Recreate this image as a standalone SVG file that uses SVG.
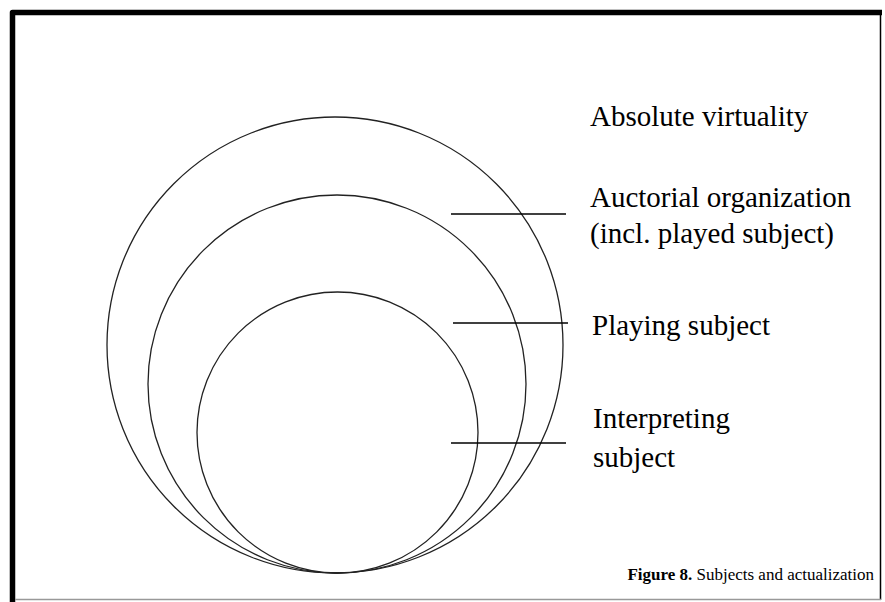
<svg xmlns="http://www.w3.org/2000/svg" width="885" height="602" viewBox="0 0 885 602">
<style>
.lbl{font-family:"Liberation Serif","Times New Roman",serif;font-size:29px;fill:#000}
.cap{font-family:"Liberation Serif","Times New Roman",serif;font-size:17px;fill:#000}
.ring{fill:none;stroke:#222;stroke-width:1.3}
.tick{stroke:#000;stroke-width:1.6}
</style>
<rect width="885" height="602" fill="#fff"/>
<g id="frame">
<path d="M12.5,602 V12.5 H882" fill="none" stroke="#000" stroke-width="5.5" stroke-linejoin="round"/>
<line x1="880.5" y1="14" x2="880.5" y2="600" stroke="#000" stroke-width="1.5"/>
<line x1="15" y1="599.5" x2="881" y2="599.5" stroke="#999" stroke-width="1.5"/>
</g>
<g id="absolute-virtuality">
<circle class="ring" cx="335" cy="345" r="228"/>
<text class="lbl" x="590" y="126">Absolute virtuality</text>
</g>
<g id="auctorial-organization">
<circle class="ring" cx="337" cy="384" r="189"/>
<text class="lbl" x="590" y="207">Auctorial organization</text>
<text class="lbl" x="590" y="243">(incl. played subject)</text>
</g>
<g id="playing-subject">
<circle class="ring" cx="337.5" cy="432.5" r="140.5"/>
<text class="lbl" x="592" y="335">Playing subject</text>
</g>
<g id="interpreting-subject">
<text class="lbl" x="593" y="428">Interpreting</text>
<text class="lbl" x="593" y="467">subject</text>
</g>
<g id="connectors">
<line class="tick" x1="451" y1="214" x2="566" y2="214"/>
<line class="tick" x1="453" y1="323" x2="568" y2="323"/>
<line class="tick" x1="451" y1="443" x2="566" y2="443"/>
</g>
<g id="caption">
<text class="cap" x="874" y="580" text-anchor="end"><tspan font-weight="bold">Figure 8.</tspan> Subjects and actualization</text>
</g>
</svg>
